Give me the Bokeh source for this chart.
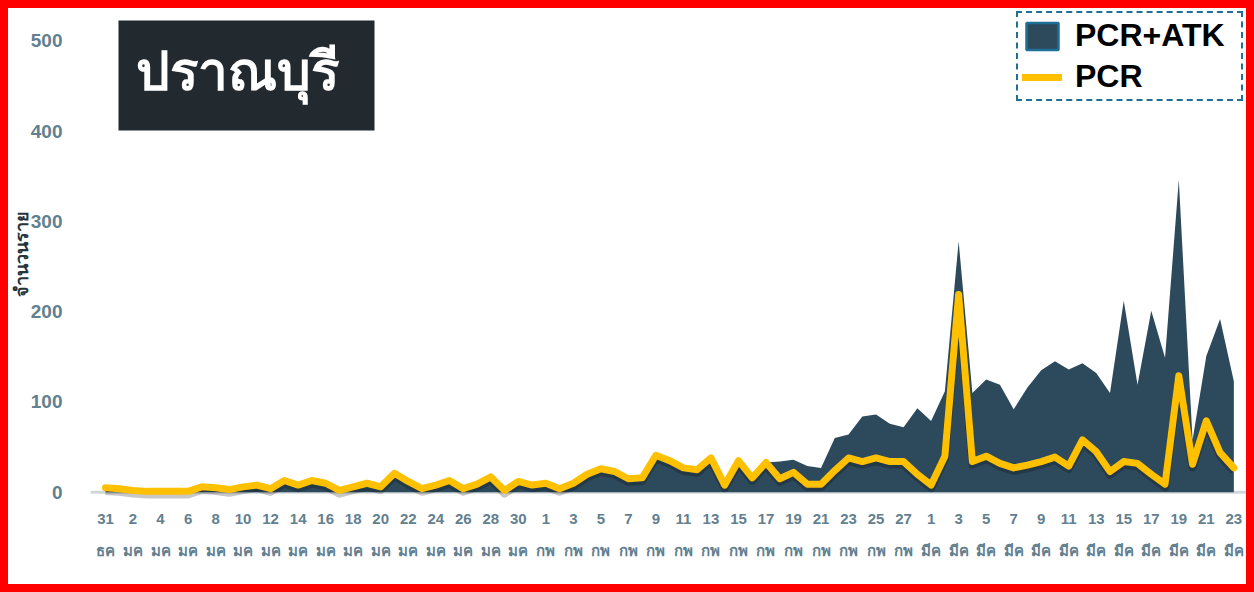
import pandas as pd
from bokeh.plotting import figure
from bokeh.models import (ColumnDataSource, FixedTicker, LinearAxis, Legend, LegendItem,
                          BoxAnnotation, Label, Span)
from bokeh.transform import dodge
from bokeh.embed import file_html
from bokeh.resources import INLINE

# ---------------- data ----------------
dates = pd.date_range("2021-12-31", "2022-03-23", freq="D")
thai_month = {12: "ธค", 1: "มค", 2: "กพ", 3: "มีค"}
day_labels = [str(d.day) for d in dates]
month_labels = [thai_month[d.month] for d in dates]

pcr = [5, 4, 2, 1, 1, 1, 1, 6, 5, 3,
       6, 8, 4, 13, 8, 13, 10, 2, 6, 10,
       6, 21, 12, 4, 8, 13, 4, 9, 17, 2,
       12, 8, 10, 4, 10, 20, 26, 23, 15, 16,
       41, 35, 27, 25, 38, 8, 35, 16, 33, 15,
       22, 9, 9, 24, 38, 34, 38, 34, 34, 20,
       8, 40, 219, 34, 40, 32, 27, 30, 34, 39,
       29, 58, 45, 23, 34, 32, 20, 9, 129, 31,
       79, 44, 27]

pcr_atk = [6, 5, 3, 2, 2, 2, 2, 7, 6, 4,
           7, 9, 5, 14, 9, 14, 11, 3, 7, 11,
           7, 22, 13, 5, 9, 14, 5, 10, 18, 3,
           13, 9, 11, 5, 11, 21, 27, 24, 16, 17,
           42, 36, 28, 26, 39, 9, 36, 17, 33, 34,
           36, 29, 27, 60, 64, 84, 86, 76, 72, 93,
           79, 112, 278, 110, 125, 119, 92, 116, 135, 145,
           136, 143, 132, 110, 212, 119, 201, 149, 346, 58,
           151, 192, 123]

y_ticks = [0, 100, 200, 300, 400, 500]
title_text = "ปราณบุรี"
y_title = "จำนวนราย"

idx = list(range(len(dates)))
src = ColumnDataSource(dict(x=idx, pcr=pcr, total=pcr_atk, zero=[0] * len(idx)))
tick_idx = idx[::2]
nan = float("nan")

AREA = "#2d4a5d"
GOLD = "#FFC000"
TICK = "#62808f"
FONT = "Liberation Sans"

p = figure(width=1238, height=576, output_backend="svg", toolbar_location=None,
           x_range=(-1.09, 82.92), y_range=(-8.0, 535.7),
           min_border_left=82, min_border_right=0, min_border_top=0, min_border_bottom=85,
           background_fill_color="white", border_fill_color="white")
p.outline_line_color = None
p.grid.grid_line_color = None

# baseline
p.add_layout(Span(location=0, dimension="width", line_color="#cfd7db", line_width=3, level="underlay"))

area_r = p.varea(x="x", y1="zero", y2="total", source=src, fill_color=AREA)
shadow_r = p.line(x="x", y=dodge("pcr", -3.5), source=src, line_color="black", line_alpha=0.22,
                  line_width=8, line_join="round")
line_r = p.line(x="x", y="pcr", source=src, line_color=GOLD, line_width=7,
                line_join="round", line_cap="round")
# legend-only outline for the area swatch (NaN -> nothing drawn in the plot)
outline_r = p.quad(left=[nan], right=[nan], top=[nan], bottom=[nan], fill_alpha=0,
                   line_color="#1f6f96", line_width=2.5)

# axes
p.yaxis.ticker = FixedTicker(ticks=y_ticks)
p.yaxis.axis_line_color = None
p.yaxis.major_tick_line_color = None
p.yaxis.minor_tick_line_color = None
p.yaxis.major_label_standoff = 22
p.yaxis.major_label_text_font = FONT
p.yaxis.major_label_text_font_style = "bold"
p.yaxis.major_label_text_font_size = "19px"
p.yaxis.major_label_text_color = TICK
p.yaxis.axis_label = y_title
p.yaxis.axis_label_text_font = FONT
p.yaxis.axis_label_text_font_style = "bold"
p.yaxis.axis_label_text_font_size = "18px"
p.yaxis.axis_label_text_color = "#26343c"
p.yaxis.axis_label_standoff = -4

xa = p.xaxis[0]
xa.ticker = FixedTicker(ticks=tick_idx)
xa.major_label_overrides = {i: day_labels[i] for i in tick_idx}
xa2 = LinearAxis(ticker=FixedTicker(ticks=tick_idx),
                 major_label_overrides={i: month_labels[i] for i in tick_idx})
p.add_layout(xa2, "below")
for ax, so in ((xa, 8), (xa2, 9)):
    ax.axis_line_color = None
    ax.major_tick_line_color = None
    ax.minor_tick_line_color = None
    ax.major_label_standoff = so
    ax.major_label_text_font = FONT
    ax.major_label_text_font_style = "bold"
    ax.major_label_text_font_size = "15px"
    ax.major_label_text_color = TICK

# title box
p.add_layout(BoxAnnotation(left=0.945, right=19.55, top=522.4, bottom=400.6,
                           fill_color="#22292f", fill_alpha=1, line_alpha=0))
p.add_layout(Label(x=9.6, y=466, text=title_text, text_align="center",
                   text_baseline="alphabetic", text_color="white",
                   text_font=FONT, text_font_style="bold", text_font_size="53px"))

legend = Legend(items=[LegendItem(label="PCR+ATK", renderers=[area_r, outline_r]),
                       LegendItem(label="PCR", renderers=[line_r])],
                location="top_right", margin=3, padding=4, spacing=4,
                glyph_width=40, glyph_height=34, label_standoff=13, label_width=162,
                label_text_font=FONT, label_text_font_style="bold",
                label_text_font_size="32px", label_text_color="black",
                border_line_color="#1f6f96", border_line_width=2, border_line_alpha=1,
                border_line_dash="2 2",
                background_fill_color="white", background_fill_alpha=1)
p.add_layout(legend)

html = file_html(p, INLINE, title="ปราณบุรี")
html = html.replace("</head>",
                    "<style>html { background: #ffffff; } "
                    "body { border: 8px solid #ff0000; background: #ffffff; }</style></head>", 1)
open("out.html", "w").write(html)
